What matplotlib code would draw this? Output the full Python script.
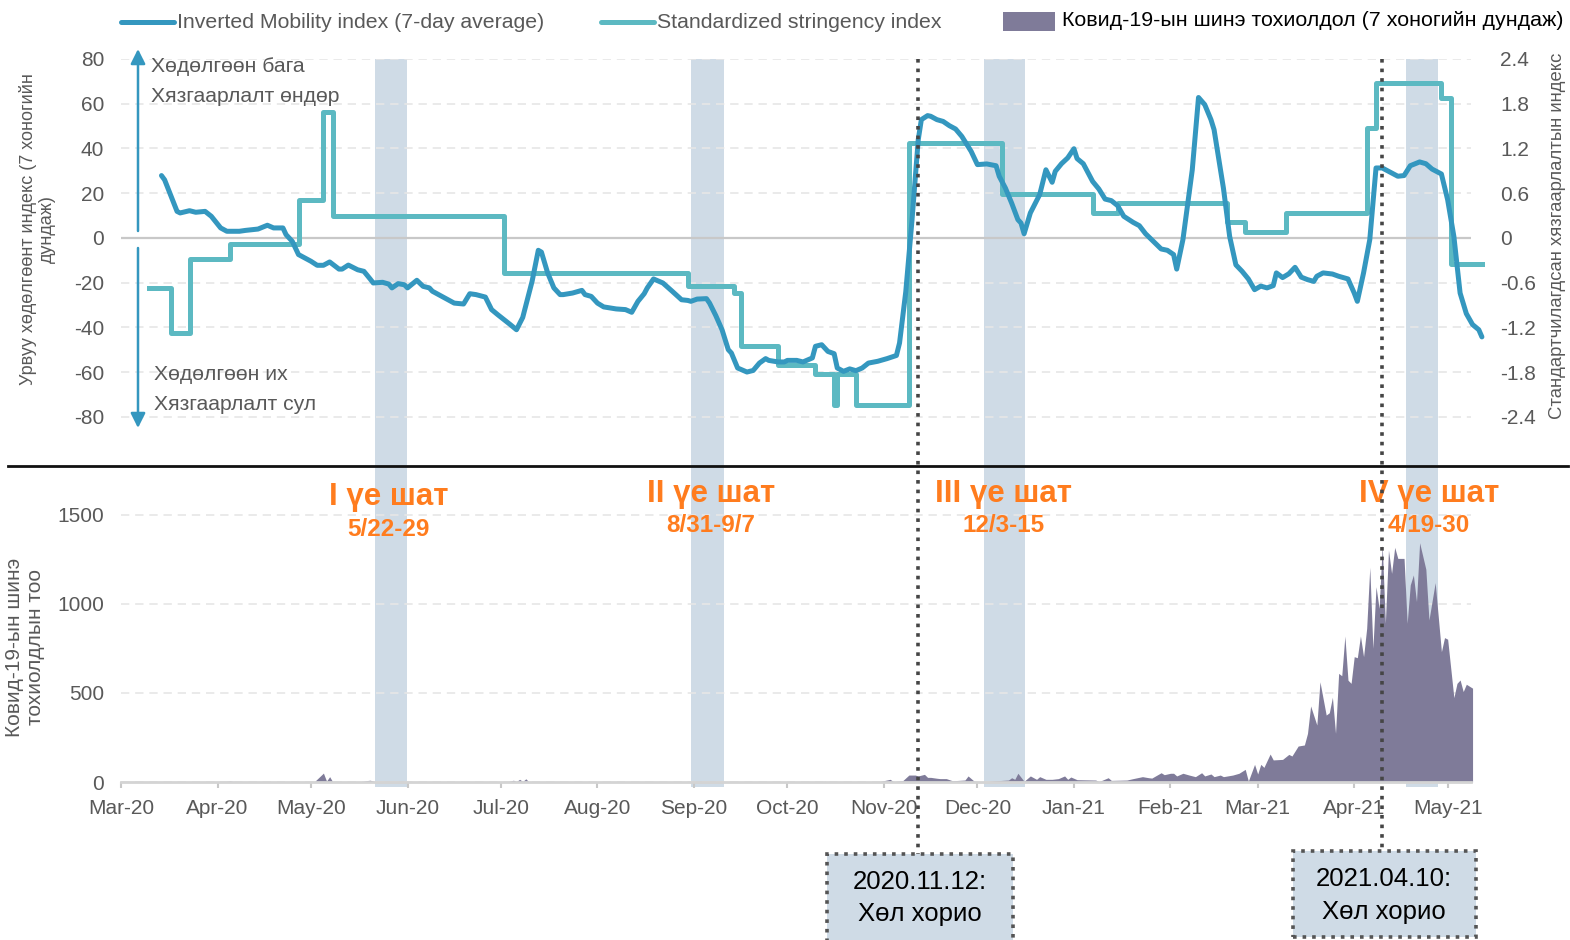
import numpy as np
import pandas as pd
import matplotlib
matplotlib.use('Agg')
import matplotlib.pyplot as plt
import matplotlib.transforms as mtransforms
from matplotlib.lines import Line2D
from matplotlib.patches import Rectangle

plt.rcParams['font.family'] = ['Liberation Sans', 'DejaVu Sans']

# ---------------- data (days counted from START) ----------------
START = pd.Timestamp('2020-03-01')
X_END_DAY = 433.5

mob_day = [
    13, 14, 18, 19, 22, 24, 27, 29, 32, 34,
    38, 40, 44, 47, 49, 52, 53, 55, 57, 61,
    63, 65, 67, 70, 71, 73, 76, 78, 80, 81,
    84, 86, 87, 89, 91, 92, 95, 97, 99, 100,
    104, 107, 110, 112, 114, 117, 119, 121, 125, 127,
    129, 132, 134, 135, 137, 139, 141, 142, 145, 148,
    149, 151, 153, 155, 159, 162, 164, 166, 168, 169,
    171, 172, 174, 177, 180, 182, 183, 185, 188, 189,
    191, 193, 195, 196, 198, 201, 203, 205, 207, 208,
    211, 213, 214, 217, 219, 222, 223, 225, 227, 229,
    230, 232, 234, 236, 238, 240, 243, 246, 249, 250,
    252, 254, 256, 257, 259, 260, 262, 264, 266, 268,
    270, 273, 275, 278, 281, 282, 284, 286, 288, 289,
    290, 292, 295, 297, 299, 300, 302, 304, 306, 307,
    309, 312, 314, 316, 318, 320, 322, 325, 327, 329,
    332, 334, 336, 338, 339, 341, 344, 346, 348, 350,
    351, 354, 356, 358, 360, 362, 364, 366, 368, 370,
    371, 373, 375, 377, 379, 381, 383, 384, 386, 389,
    391, 394, 396, 397, 399, 401, 403, 405, 407, 410,
    412, 414, 417, 419, 421, 424, 426, 428, 430, 432,
    434, 436, 437]
mob_val = [
    27.9, 26.0, 11.9, 11.2, 12.2, 11.5, 11.9, 9.7, 4.5, 3.0,
    3.0, 3.4, 4.0, 5.7, 4.5, 4.5, 1.5, -1.5, -7.4, -10.4,
    -12.2, -12.2, -10.7, -13.9, -13.9, -12.1, -14.2, -14.9, -18.3, -20.1,
    -19.8, -20.6, -22.3, -20.4, -20.9, -22.3, -18.9, -21.6, -22.3, -23.8,
    -26.8, -29.1, -29.5, -24.9, -25.3, -26.4, -32.0, -34.3, -38.7, -41.0,
    -35.5, -19.4, -5.5, -6.3, -15.6, -22.3, -25.3, -25.3, -24.6, -23.4,
    -25.3, -26.1, -29.1, -30.8, -31.7, -32.0, -33.2, -28.3, -24.9, -22.3,
    -18.3, -18.9, -20.1, -23.8, -27.6, -27.9, -28.3, -27.3, -27.1, -29.1,
    -34.7, -41.0, -49.9, -51.4, -58.1, -59.9, -59.2, -55.9, -53.9, -54.7,
    -55.4, -55.4, -54.7, -54.7, -55.4, -53.6, -48.4, -47.7, -50.7, -51.7,
    -58.1, -59.6, -58.5, -59.3, -58.1, -55.9, -55.1, -53.9, -52.5, -46.9,
    -24.0, 8.0, 43.9, 52.9, 54.7, 54.4, 52.9, 52.1, 50.2, 48.7,
    45.4, 38.7, 32.8, 33.1, 32.3, 27.6, 22.3, 15.6, 8.2, 6.7,
    1.9, 11.2, 19.4, 30.5, 24.9, 29.8, 33.2, 35.8, 39.9, 35.5,
    33.2, 25.3, 21.9, 17.4, 16.7, 14.5, 9.7, 7.0, 5.5, 1.9,
    -2.2, -4.9, -5.5, -7.4, -13.9, -0.7, 30.5, 62.8, 59.6, 52.9,
    48.4, 22.3, 0.7, -12.0, -14.9, -18.3, -23.1, -21.5, -22.3, -21.3,
    -15.6, -17.7, -16.0, -13.1, -17.5, -18.6, -19.4, -17.1, -15.6, -16.1,
    -17.1, -18.3, -24.6, -28.3, -15.6, -0.7, 31.3, 31.3, 29.8, 27.6,
    27.9, 32.3, 34.0, 33.2, 30.8, 28.6, 17.1, 0.7, -24.6, -33.8,
    -38.7, -41.0, -44.2]

# stringency index: day on which each level starts
str_day = [9, 16, 22, 35, 57, 65, 68, 123, 182, 197, 199, 211, 223, 229,
           230, 236, 253, 283, 312, 320, 355, 361, 374, 400, 403, 424, 427, 437]
str_val = [-0.67, -1.27, -0.28, -0.076, 0.514, 1.685, 0.30, -0.469, -0.64, -0.74,
           -1.444, -1.70, -1.83, -2.235, -1.83, -2.235, 1.274, 0.594, 0.335, 0.469,
           0.21, 0.076, 0.335, 1.475, 2.078, 1.877, -0.344, -0.344]

case_day = [0, 33, 35, 37,
            62, 65, 66, 67, 68,
            77, 79, 80, 82,
            103, 104, 105,
            124, 126, 127, 128, 129, 130, 131,
            225, 226, 227,
            243, 244, 247, 248, 251, 253, 255, 256, 258, 259, 260, 262, 263, 265, 267,
            271, 272, 274, 276,
            283, 285, 286, 287, 288, 290, 292, 294, 295, 297, 299, 301, 303, 304, 305, 307,
            313, 314, 317, 318, 323, 325, 328, 330, 331, 334,
            335, 337, 338, 339, 341, 343, 345, 347, 348, 350,
            351, 353, 354, 357, 359, 361, 362, 364, 365, 366,
            367, 369, 370, 373, 375, 376, 378, 380, 381, 382,
            384, 385, 387, 388, 389, 390,
            391, 392, 393, 394, 395, 396, 397, 398, 399, 400,
            401, 402, 403, 404, 405, 406, 407, 408, 409, 410,
            412, 413, 414, 415, 416, 417, 419, 420, 422, 424,
            425, 426, 428, 429, 430, 431, 432, 434]
case_val = [0, 0, 6, 0,
            0, 50, 5, 30, 0,
            0, 8, 10, 0,
            0, 3, 0,
            0, 10, 3, 15, 3, 18, 0,
            0, 4, 0,
            0, 4, 15, 2, 7, 39, 39, 34, 43, 26, 26, 21, 19, 19, 7,
            11, 34, 4, 0,
            9, 11, 24, 15, 49, 4, 34, 15, 30, 15, 15, 19, 34, 15, 28, 13,
            11, 2, 24, 9, 11, 19, 30, 24, 22, 52,
            41, 49, 49, 34, 49, 39, 30, 52, 34, 45,
            30, 39, 30, 39, 49, 71, 5, 99, 45, 99,
            82, 157, 124, 127, 155, 146, 202, 208, 273, 427,
            320, 563, 376, 389, 476, 273,
            610, 597, 820, 572, 554, 704, 698, 820, 704, 863,
            1206, 751, 1097, 975, 1331, 891, 1303, 1172, 1318, 1256,
            1256, 891, 1107, 1163, 1013, 1344, 1195, 910, 1120, 732,
            811, 802, 474, 554, 573, 508, 549, 527]

band_start_day = [81.5, 183.0, 277.0, 412.5]
band_end_day = [91.8, 193.5, 290.2, 423.0]
phase_titles = ['I үе шат', 'II үе шат', 'III үе шат', 'IV үе шат']
phase_dates = ['5/22-29', '8/31-9/7', '12/3-15', '4/19-30']

lockdown_dates = ['2020-11-12', '2021-04-10']
lockdown_line1 = ['2020.11.12:', '2021.04.10:']
lockdown_line2 = ['Хөл хорио', 'Хөл хорио']

legend_labels = ['Inverted Mobility index (7-day average)',
                 'Standardized stringency index',
                 'Ковид-19-ын шинэ тохиолдол (7 хоногийн дундаж)']
left_ticks = [80, 60, 40, 20, 0, -20, -40, -60, -80]
left_ticklabels = ['80', '60', '40', '20', '0', '-20', '-40', '-60', '-80']
right_ticks = [2.4, 1.8, 1.2, 0.6, 0, -0.6, -1.2, -1.8, -2.4]
right_ticklabels = ['2.4', '1.8', '1.2', '0.6', '0', '-0.6', '-1.2', '-1.8', '-2.4']
case_ticks = [0, 500, 1000, 1500]
case_ticklabels = ['0', '500', '1000', '1500']
month_ticks = pd.date_range('2020-03-01', '2021-05-01', freq='MS')
month_ticklabels = [d.strftime('%b-%y') for d in month_ticks]

left_label = 'Урвуу хөдөлгөөнт индекс (7 хоногийн\nдундаж)'
right_label = 'Стандартчилагдсан хязгаарлалтын индекс'
case_label = 'Ковид-19-ын шинэ\nтохиолдлын тоо'

# ---------------- style ----------------
MOB = '#3497bf'
STR = '#5cb9c2'
AREA = '#7f7b99'
BAND = '#cfdbe6'
GREY = '#595959'
ORANGE = '#ff7c1e'

W, H = 1570, 940
fig = plt.figure(figsize=(W / 100, H / 100), dpi=100)


def fx(px):
    return px / W


def fy(py):
    return 1 - py / H


def to_dates(days):
    return START + pd.to_timedelta(np.asarray(days, dtype=float), unit='D')


L, R = 121, 1471
ax1 = fig.add_axes([fx(L), fy(466), fx(R) - fx(L), fy(59) - fy(466)])
ax1r = ax1.twinx()
ax2 = fig.add_axes([fx(L), fy(782), fx(R) - fx(L), fy(466) - fy(782)], sharex=ax1)

ax1.set_zorder(ax1r.get_zorder() + 1)
ax1.patch.set_visible(False)

YMIN = -101.9
ax1.set_ylim(YMIN, 80)
ax1r.set_ylim(YMIN * 2.4 / 80, 2.4)
ax2.set_ylim(0, 1775)
ax1.set_xlim(START, START + pd.Timedelta(days=X_END_DAY))

# bands
for s, e in zip(band_start_day, band_end_day):
    sd, ed = to_dates([s, e])
    ax1r.axvspan(sd, ed, color=BAND, lw=0, zorder=0)
    ax2.axvspan(sd, ed, ymin=-0.017, ymax=1, color=BAND, lw=0, zorder=0, clip_on=False)

# grids
ax1r.set_axisbelow(True)
ax1r.yaxis.grid(True, color='#e6e6e6', lw=1.2, ls=(0, (5, 3.5)))
ax2.set_axisbelow(True)
ax2.yaxis.grid(True, color='#e6e6e6', lw=1.2, ls=(0, (5, 3.5)))
ax1r.axhline(0, color='#c8c8c8', lw=1.6, zorder=1)

# series
ax1r.plot(to_dates(str_day), str_val, drawstyle='steps-post', color=STR, lw=3.6,
          clip_on=False, zorder=2)
ax1.plot(to_dates(mob_day), mob_val, color=MOB, lw=3.6, solid_joinstyle='round',
         solid_capstyle='round', clip_on=False, zorder=3)
ax2.fill_between(to_dates(case_day), case_val, 0, color=AREA, lw=0, clip_on=False, zorder=2)

# ticks
ax1.set_yticks(left_ticks)
ax1.set_yticklabels(left_ticklabels)
ax1r.set_yticks(right_ticks)
ax1r.set_yticklabels(right_ticklabels)
ax2.set_yticks(case_ticks)
ax2.set_yticklabels(case_ticklabels)
ax2.set_xticks(month_ticks)
ax2.set_xticklabels(month_ticklabels)

ax1.tick_params(axis='y', length=0, labelsize=15, labelcolor=GREY, pad=12)
ax1r.tick_params(axis='y', length=0, labelsize=15, labelcolor=GREY, pad=21)
ax1.tick_params(axis='x', bottom=False, labelbottom=False)
ax1r.tick_params(axis='x', bottom=False, labelbottom=False)
ax2.tick_params(axis='y', length=0, labelsize=15, labelcolor=GREY, pad=12)
ax2.tick_params(axis='x', length=4.5, width=1.5, color='#c8c8c8', labelsize=15,
                labelcolor=GREY, pad=7.5)

for a in (ax1, ax1r, ax2):
    for sp in a.spines.values():
        sp.set_visible(False)
ax2.spines['bottom'].set_visible(True)
ax2.spines['bottom'].set_color('#d4d4d4')
ax2.spines['bottom'].set_linewidth(2)
ax2.spines['bottom'].set_zorder(3)

# axis labels
fig.text(fx(37), fy(229), left_label, rotation=90, ha='center', va='center',
         fontsize=13, color=GREY, linespacing=1.15)
fig.text(fx(1558), fy(236), right_label, rotation=90, ha='center', va='center',
         fontsize=13.3, color=GREY)
fig.text(fx(25), fy(647), case_label, rotation=90, ha='center', va='center',
         fontsize=15, color=GREY, linespacing=1.15)

# direction arrows and texts
ax1.annotate('', xy=(fx(138), fy(49)), xytext=(fx(138), fy(231)),
             xycoords='figure fraction', textcoords='figure fraction',
             arrowprops=dict(arrowstyle='-|>', color=MOB, lw=1.8, mutation_scale=22,
                             shrinkA=0, shrinkB=0), annotation_clip=False)
ax1.annotate('', xy=(fx(138), fy(428)), xytext=(fx(138), fy(248)),
             xycoords='figure fraction', textcoords='figure fraction',
             arrowprops=dict(arrowstyle='-|>', color=MOB, lw=1.8, mutation_scale=22,
                             shrinkA=0, shrinkB=0), annotation_clip=False)
fig.text(fx(151), fy(67), 'Хөдөлгөөн бага', ha='left', va='center', fontsize=15.2, color=GREY)
fig.text(fx(151), fy(96), 'Хязгаарлалт өндөр', ha='left', va='center', fontsize=15.2, color=GREY)
fig.text(fx(154), fy(375), 'Хөдөлгөөн их', ha='left', va='center', fontsize=15.2, color=GREY)
fig.text(fx(154), fy(404), 'Хязгаарлалт сул', ha='left', va='center', fontsize=15.2, color=GREY)

# legend
fig.add_artist(Line2D([fx(121), fx(174)], [fy(22), fy(22)], color=MOB, lw=3.6,
                      solid_capstyle='round', transform=fig.transFigure))
fig.text(fx(177), fy(22), legend_labels[0], ha='left', va='center', fontsize=15.3, color=GREY)
fig.add_artist(Line2D([fx(601), fx(654)], [fy(22), fy(22)], color=STR, lw=3.6,
                      solid_capstyle='round', transform=fig.transFigure))
fig.text(fx(657), fy(22), legend_labels[1], ha='left', va='center', fontsize=15.3, color=GREY)
fig.add_artist(Rectangle((fx(1003), fy(31)), fx(1055) - fx(1003), fy(12) - fy(31),
                         color=AREA, lw=0, transform=fig.transFigure))
fig.text(fx(1062), fy(21), legend_labels[2], ha='left', va='center', fontsize=15.4, color='black')

# separator line
fig.add_artist(Line2D([fx(8), fx(1568)], [fy(466), fy(466)], color='#111111', lw=2,
                      transform=fig.transFigure))

# phase labels
label_dx = [-2, 4, -1, 7]
label_dy = [3, 0, 0, 0]
for s, e, t, d, dx, dy in zip(band_start_day, band_end_day, phase_titles, phase_dates,
                              label_dx, label_dy):
    mid = to_dates([(s + e) / 2])[0]
    px = ax2.transData.transform((matplotlib.dates.date2num(mid), 0))[0]
    fig.text(fx(px + dx), fy(494 + dy), t, ha='center', va='center', fontsize=22.5,
             fontweight='bold', color=ORANGE)
    fig.text(fx(px + dx), fy(526 + dy), d, ha='center', va='center', fontsize=17.5,
             fontweight='bold', color=ORANGE)

# lockdown lines and boxes
blend = mtransforms.blended_transform_factory(ax2.transData, fig.transFigure)
box_top = [854, 851]
box_bot = [943, 937]
box_w = [186, 183]
txt_y = [(882, 914), (879, 912)]
for dstr, l1, l2, bt, bb, bw, ty in zip(lockdown_dates, lockdown_line1, lockdown_line2,
                                        box_top, box_bot, box_w, txt_y):
    xn = matplotlib.dates.date2num(pd.Timestamp(dstr))
    fig.add_artist(Line2D([xn, xn], [fy(59), fy(bt)], transform=blend, color='#454545',
                          lw=2.6, ls=':', dash_capstyle='butt', zorder=5))
    px = ax2.transData.transform((xn, 0))[0]
    fig.add_artist(Rectangle((fx(px - bw / 2 + 2), fy(bb)), bw / W, (bb - bt) / H,
                             facecolor=BAND, edgecolor='#555555', lw=2.6, ls=':',
                             transform=fig.transFigure, zorder=6))
    fig.text(fx(px + 2), fy(ty[0]), l1, ha='center', va='center', fontsize=18.5,
             color='black', zorder=7)
    fig.text(fx(px + 2), fy(ty[1]), l2, ha='center', va='center', fontsize=18.5,
             color='black', zorder=7)

fig.savefig('out.png', dpi=100)
